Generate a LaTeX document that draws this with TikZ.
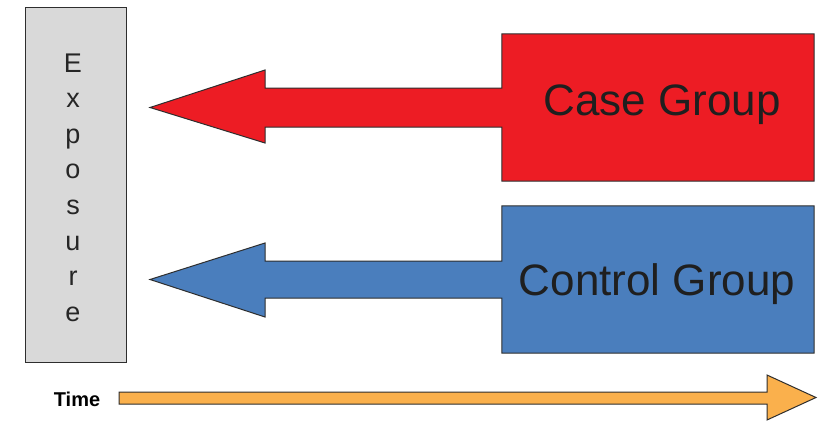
\documentclass[tikz,border=0pt]{standalone}
\usepackage{fontspec}
\setmainfont{Liberation Sans}
\usetikzlibrary{calc}
\definecolor{casered}{HTML}{ED1C24}
\definecolor{ctrlblue}{HTML}{4A7EBD}
\definecolor{expgray}{HTML}{D9D9D9}
\definecolor{timeorange}{HTML}{FAB04C}
\definecolor{edgegray}{HTML}{2E2E2E}

\begin{document}
\begin{tikzpicture}[x=1pt,y=-1pt,
  outlined/.style={draw=edgegray, line width=1pt, line join=miter},
  groupbox/.style={rectangle, inner sep=0pt, minimum width=312pt, minimum height=147pt},
  grouplabel/.style={anchor=base, inner sep=0pt, font=\fontsize{44}{44}\selectfont, text=black!88},
  exletter/.style={anchor=base, inner sep=0pt, font=\fontsize{27}{27}\selectfont, text=black!85}]
\useasboundingbox (0,0) rectangle (825,423);
\fill[white] (0,0) rectangle (825,423);

% Exposure column
\node[outlined, fill=expgray, rectangle, inner sep=0pt, minimum width=101pt,
      minimum height=355pt, anchor=north west] (exp) at (25,7) {};
\foreach \ch [count=\i from 0] in {E,x,p,o,s,u,r,e}
  \node[exletter] (exl\i) at (73,72+35.6*\i) {\ch};

% Group boxes (shapes are drawn below together with their arrows)
\node[groupbox] (case) at (658,107.5) {};
\node[groupbox] (control) at (658,279.5) {};

% Arrow tips pointing at the exposure column
\coordinate (casetip) at (150,107.5);
\coordinate (ctrltip) at (150,279.5);

% Case group: box merged with a left-pointing block arrow
\path[outlined, fill=casered]
  (case.north west) -- (case.north east) -- (case.south east) -- (case.south west)
  -- (case.west |- 0,127) -- (265,127) -- (265,143) -- (casetip)
  -- (265,70) -- (265,88) -- (case.west |- 0,88) -- cycle;

% Control group: box merged with a left-pointing block arrow
\path[outlined, fill=ctrlblue]
  (control.north west) -- (control.north east) -- (control.south east) -- (control.south west)
  -- (control.west |- 0,298) -- (265,298) -- (265,317) -- (ctrltip)
  -- (265,243) -- (265,261) -- (control.west |- 0,261) -- cycle;

\node[grouplabel] (caselabel) at (662,115) {Case Group};
\node[grouplabel] (controllabel) at (657,295) {Control Group};

% Time axis
\node[anchor=base, inner sep=0pt, font=\fontsize{20}{20}\selectfont\bfseries] (timelabel) at (77,406.5) {Time};
\coordinate (timestart) at (119,398);
\coordinate (timeend) at (816,397.5);
\path[outlined, fill=timeorange]
  (timestart |- 0,392) -- (767,392) -- (767,375) -- (timeend)
  -- (767,420) -- (767,404) -- (timestart |- 0,404) -- cycle;
\end{tikzpicture}
\end{document}
